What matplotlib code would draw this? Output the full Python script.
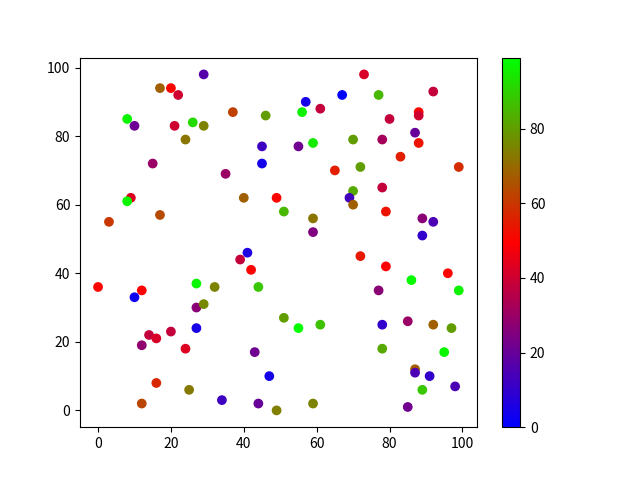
import matplotlib
matplotlib.use("Agg")
import matplotlib.pyplot as plt

plt.rcParams['font.family'] = ['Noto Sans CJK SC', 'DejaVu Sans']
plt.rcParams['axes.unicode_minus'] = False

x = [29, 17, 20, 22, 8, 10, 21, 26, 29, 24,
     15, 9, 8, 3, 17, 37, 46, 57, 67, 56,
     61, 45, 55, 59, 45, 35, 65, 40, 49, 51,
     59, 59, 73, 77, 92, 88, 88, 80, 70, 78,
     87, 88, 83, 99, 72, 78, 70, 69, 70, 79,
     89, 92, 89, 0, 12, 10, 27, 32, 27, 29,
     27, 14, 16, 20, 12, 24, 16, 25, 12, 41,
     39, 42, 44, 51, 55, 61, 43, 47, 34, 44,
     49, 59, 72, 79, 96, 86, 77, 99, 78, 85,
     92, 97, 78, 95, 87, 87, 91, 98, 89, 85]
y = [98, 94, 94, 92, 85, 83, 83, 84, 83, 79,
     72, 62, 61, 55, 57, 87, 86, 90, 92, 87,
     88, 77, 77, 78, 72, 69, 70, 62, 62, 58,
     56, 52, 98, 92, 93, 87, 86, 85, 79, 79,
     81, 78, 74, 71, 71, 65, 64, 62, 60, 58,
     56, 55, 51, 36, 35, 33, 37, 36, 30, 31,
     24, 22, 21, 23, 19, 18, 8, 6, 2, 46,
     44, 41, 36, 27, 24, 25, 17, 10, 3, 2,
     0, 2, 45, 42, 40, 38, 35, 35, 25, 26,
     25, 24, 18, 17, 12, 11, 10, 7, 6, 1]
colors = [17, 68, 50, 40, 97, 21, 40, 92, 75, 72,
          30, 43, 97, 60, 64, 62, 80, 4, 0, 96,
          38, 12, 22, 95, 4, 30, 55, 68, 50, 85,
          72, 25, 42, 85, 38, 50, 40, 38, 80, 32,
          20, 53, 55, 58, 80, 38, 82, 13, 68, 53,
          27, 15, 10, 50, 49, 3, 97, 75, 27, 76,
          5, 38, 42, 38, 28, 43, 57, 73, 63, 6,
          38, 50, 88, 80, 99, 87, 22, 4, 12, 20,
          74, 75, 54, 50, 50, 98, 27, 96, 10, 30,
          68, 80, 82, 97, 67, 15, 10, 15, 88, 22]

fig = plt.figure(figsize=(6.4, 4.8), dpi=100)
plt.scatter(x, y, c=colors, cmap="brg")
plt.colorbar()
plt.savefig("out.png")
